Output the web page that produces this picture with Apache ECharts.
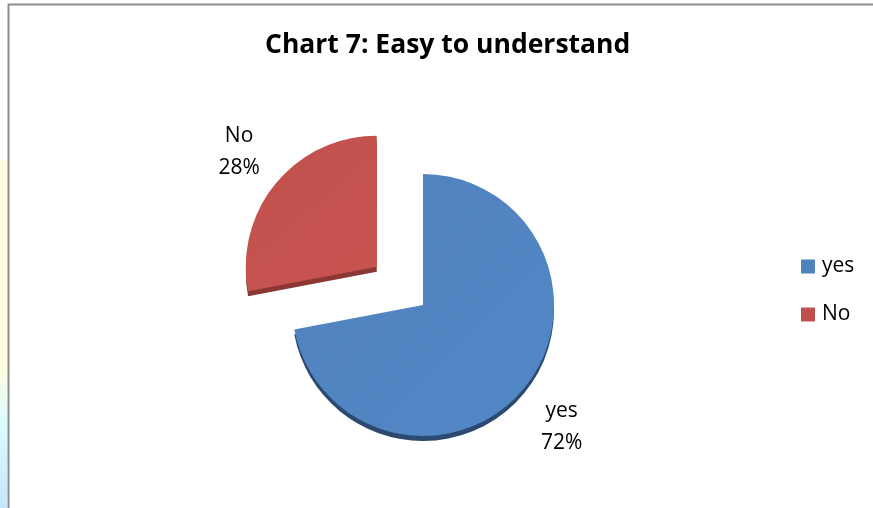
<!DOCTYPE html>
<html>
<head>
<meta charset="utf-8">
<style>
  html, body { margin: 0; padding: 0; background: #fff; }
  #chart { width: 873px; height: 508px; }
</style>
<script src="https://cdn.jsdelivr.net/npm/echarts@6/dist/echarts.min.js"></script>
</head>
<body>
<div id="chart"></div>
<script>
// values
const categories = ['yes', 'No'];
const shares = [72, 28];
const exploded = ['No'];
const colors = ['#4f81bd', '#c0504d'];
const rimColors = ['#2c4a70', '#8c3735'];

const chart = echarts.init(document.getElementById('chart'));

const font = '"Open Sans", "Noto Sans", sans-serif';
const center = [423, 305];
const radius = 131;
const explodeBy = 60;
const total = shares.reduce((a, b) => a + b, 0);

// face of the pie, faint gradient like the office charts
const faceData = categories.map((name, i) => {
  const item = {
    name,
    value: shares[i],
    selected: exploded.includes(name),
    itemStyle: {
      color: new echarts.graphic.LinearGradient(0, 0, 1, 1, [
        { offset: 0, color: echarts.color.lift(colors[i], 0.01) },
        { offset: 1, color: echarts.color.lift(colors[i], -0.05) }
      ])
    }
  };
  // select state puts this label back where the pie wants it, nudge it a bit
  if (item.selected) item.label = { padding: [0, 0, 0, 12] };
  return item;
});

// darker copy a few px lower = the thin 3d edge
const rimData = categories.map((name, i) => ({
  name,
  value: shares[i],
  selected: exploded.includes(name),
  itemStyle: { color: rimColors[i] }
}));

// put each label out along the middle of its slice
function placeLabel(params) {
  const i = params.dataIndex;
  let before = 0;
  for (let k = 0; k < i; k++) before += shares[k];
  const mid = (before + shares[i] / 2) / total * Math.PI * 2;
  const dx = Math.sin(mid), dy = -Math.cos(mid);
  const off = exploded.includes(categories[i]) ? explodeBy : 0;
  return {
    x: center[0] + dx * (off + 180),
    y: center[1] + dy * (off + 191),
    align: 'center',
    verticalAlign: 'middle'
  };
}

const option = {
  backgroundColor: '#fff',
  animation: false,
  title: {
    text: 'Chart 7: Easy to understand',
    left: 265,
    top: 32,
    padding: 0,
    textStyle: { fontFamily: font, fontWeight: 'bold', fontSize: 26.5, color: '#000' }
  },
  legend: {
    orient: 'vertical',
    left: 801,
    top: 256,
    padding: 0,
    itemWidth: 14,
    itemHeight: 14,
    itemGap: 27,
    icon: 'rect',
    data: categories.map((name, i) => ({ name, itemStyle: { color: colors[i] } })),
    textStyle: { fontFamily: font, fontSize: 21, color: '#000', padding: [0, 0, 0, 2] }
  },
  graphic: [
    {
      type: 'rect',
      shape: { x: 0, y: 160, width: 7, height: 348 },
      style: {
        fill: new echarts.graphic.LinearGradient(0, 0, 0, 1, [
          { offset: 0, color: '#fffde0' },
          { offset: 0.6, color: '#fffde0' },
          { offset: 0.75, color: '#dcfcff' },
          { offset: 1, color: '#c4e6fb' }
        ])
      },
      silent: true
    },
    {
      type: 'polyline',
      shape: { points: [[8.5, 508], [8.5, 4.5], [873, 4.5]] },
      style: { stroke: '#8c8c8c', lineWidth: 2, fill: null },
      silent: true
    }
  ],
  series: [
    {
      type: 'pie',
      name: 'rim',
      center: [center[0], center[1] + 5],
      radius,
      startAngle: 90,
      selectedMode: 'multiple',
      selectedOffset: explodeBy,
      silent: true,
      label: { show: false },
      labelLine: { show: false },
      data: rimData,
      z: 1
    },
    {
      type: 'pie',
      name: 'Easy to understand',
      center,
      radius,
      startAngle: 90,
      selectedMode: 'multiple',
      selectedOffset: explodeBy,
      z: 2,
      label: {
        show: true,
        position: 'outside',
        formatter: '{b}\n{d}%',
        fontFamily: font,
        fontSize: 21,
        lineHeight: 32,
        color: '#000'
      },
      labelLine: { show: false, length: 49, length2: 0 },
      labelLayout: placeLabel,
      data: faceData
    }
  ]
};

chart.setOption(option);
</script>
</body>
</html>
